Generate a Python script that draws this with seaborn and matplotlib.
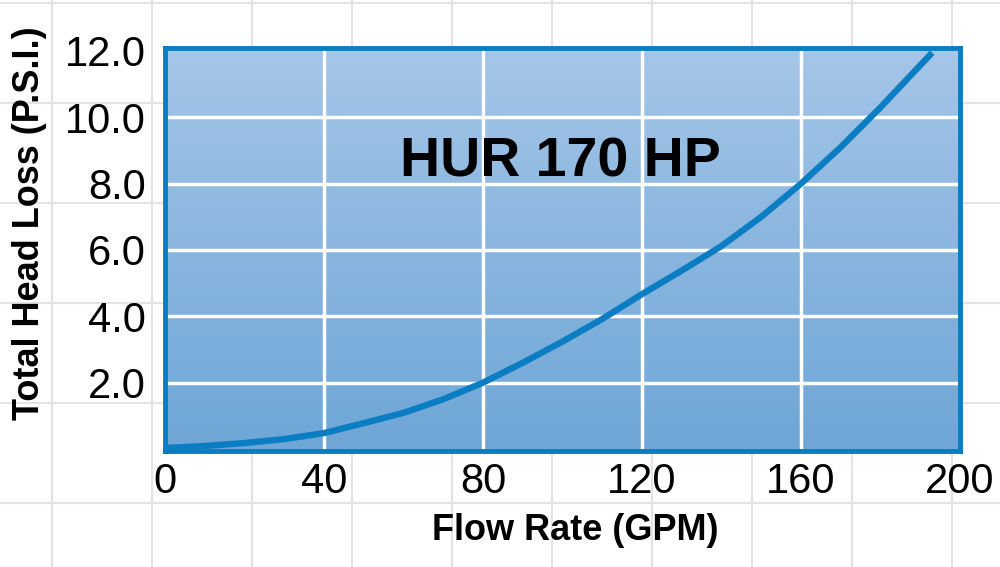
import numpy as np
import pandas as pd
import matplotlib
matplotlib.use("Agg")
import matplotlib.pyplot as plt
from matplotlib.colors import LinearSegmentedColormap
from matplotlib.ticker import FixedLocator, FixedFormatter
import seaborn as sns

# ---- data ----
flow_gpm = [0, 10, 20, 30, 40, 50, 60, 70, 80, 90, 100, 110, 120, 130, 140, 150, 160, 170, 180, 193]
head_loss_psi = [0.03, 0.09, 0.18, 0.30, 0.48, 0.78, 1.09, 1.50, 2.00, 2.60, 3.24, 3.92, 4.67, 5.38,
                 6.12, 7.00, 8.00, 9.10, 10.30, 11.95]
x_ticks = [0, 40, 80, 120, 160, 200]
x_tick_labels = ["0", "40", "80", "120", "160", "200"]
y_ticks = [2, 4, 6, 8, 10, 12]
y_tick_labels = ["2.0", "4.0", "6.0", "8.0", "10.0", "12.0"]
title_text = "HUR 170 HP"
x_label = "Flow Rate (GPM)"
y_label = "Total Head Loss (P.S.I.)"

df = pd.DataFrame({"flow": flow_gpm, "loss": head_loss_psi})

sns.set_style("white")
plt.rcParams["font.family"] = ["Liberation Sans", "DejaVu Sans"]

fig = plt.figure(figsize=(10, 5.67), dpi=100)

# light background grid of the page
bg = fig.add_axes([0, 0, 1, 1], zorder=-1)
bg.set_xlim(0, 1000)
bg.set_ylim(567, 0)
bg.axis("off")
for xv in range(52, 1000, 100):
    bg.axvline(xv, color="#e3e3e3", lw=1.5)
for yv in range(3, 567, 100):
    bg.axhline(yv, color="#e3e3e3", lw=1.5)

ax = fig.add_axes([0.165, 1 - 451 / 567, 0.795, (451 - 48) / 567])
xlim = (0, 200)
ylim = (-0.06, 12.09)
ax.set_xlim(*xlim)
ax.set_ylim(*ylim)

# gradient fill of plot area
cmap = LinearSegmentedColormap.from_list("bluegrad", ["#6ea6d6", "#a5c6e8"])
grad = np.linspace(0, 1, 256).reshape(-1, 1)
ax.imshow(grad, cmap=cmap, origin="lower", aspect="auto",
          extent=(xlim[0], xlim[1], ylim[0], ylim[1]), zorder=0)

# white grid
for xv in x_ticks[1:-1]:
    ax.axvline(xv, color="white", lw=2.5, zorder=1)
for yv in y_ticks[:-1]:
    ax.axhline(yv, color="white", lw=2.5, zorder=1)

sns.lineplot(data=df, x="flow", y="loss", ax=ax, color="#0b7dc3", linewidth=4.6,
             zorder=3, solid_capstyle="butt")

ax.xaxis.set_major_locator(FixedLocator(x_ticks))
ax.xaxis.set_major_formatter(FixedFormatter(x_tick_labels))
ax.yaxis.set_major_locator(FixedLocator(y_ticks))
ax.yaxis.set_major_formatter(FixedFormatter(y_tick_labels))
ax.tick_params(axis="both", length=0, labelsize=30, colors="black", labelcolor="black")
ax.tick_params(axis="x", pad=8)
ax.tick_params(axis="y", pad=14)

for s in ax.spines.values():
    s.set_color("#0a7cc2")
    s.set_linewidth(3.5)
    s.set_visible(True)

ax.set_xlabel(x_label, fontsize=26, fontweight="bold", color="black")
ax.set_ylabel(y_label, fontsize=26, fontweight="bold", color="black")
ax.xaxis.set_label_coords((575 - 165) / 795, (451 - 531) / 403)
ax.xaxis.label.set_verticalalignment("center")
ax.yaxis.set_label_coords((30 - 165) / 795, (451 - 223) / 403)
ax.yaxis.label.set_verticalalignment("center")

ax.text(99.5, 8.65, title_text, fontsize=40, fontweight="bold", ha="center", va="center",
        color="black", zorder=4)

fig.savefig("out.png", dpi=100)
